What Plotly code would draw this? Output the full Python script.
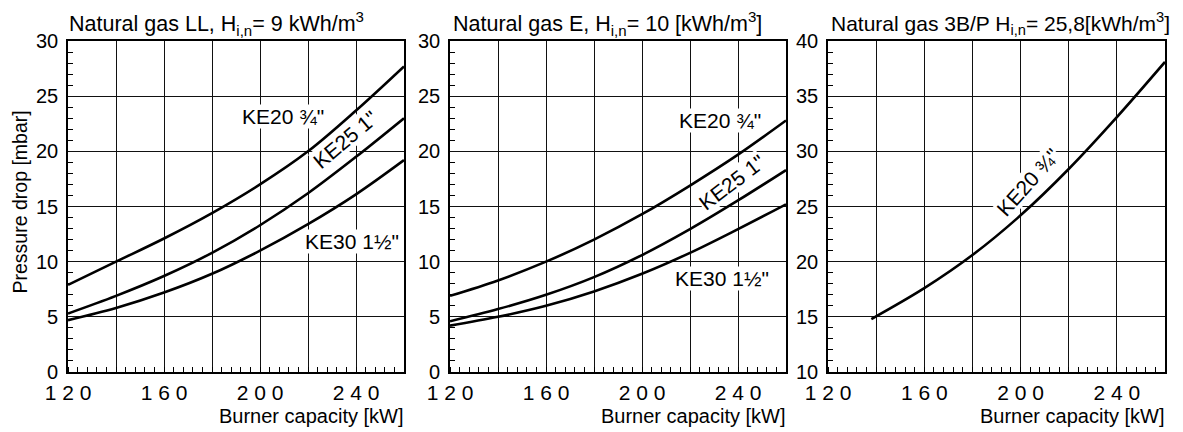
import plotly.graph_objects as go

# ---------------- data ----------------
capacity = [120, 140, 160, 180, 200, 220, 240, 260]

ll_ke20 = [7.9, 10.0, 12.1, 14.4, 17.0, 20.0, 23.7, 27.7]
ll_ke25 = [5.3, 6.9, 8.7, 10.8, 13.3, 16.2, 19.5, 23.0]
ll_ke30 = [4.7, 5.8, 7.2, 8.9, 11.0, 13.4, 16.1, 19.2]

e_ke20 = [6.9, 8.3, 10.0, 12.0, 14.3, 16.9, 19.7, 22.8]
e_ke25 = [4.6, 5.7, 7.0, 8.6, 10.6, 12.95, 15.55, 18.3]
e_ke30 = [4.2, 5.0, 6.0, 7.3, 8.9, 10.8, 12.95, 15.2]

p_capacity = [138, 160, 180, 200, 220, 240, 260]
p_ke20 = [14.8, 17.6, 20.6, 24.2, 28.4, 33.1, 38.1]

x_tickvals = [120, 140, 160, 180, 200, 220, 240, 260]
x_ticktext = ["1 2 0", "", "1 6 0", "", "2 0 0", "", "2 4 0", ""]

titles = [
    "Natural gas LL, H<sub>i,n</sub>= 9 kWh/m<sup>3</sup>",
    "Natural gas E, H<sub>i,n</sub>= 10 [kWh/m<sup>3</sup>]",
    "Natural gas 3B/P H<sub>i,n</sub>= 25,8[kWh/m<sup>3</sup>]",
]
x_title = "Burner capacity [kW]"
y_title = "Pressure drop [mbar]"

lbl20 = "KE20 \u00be\""
lbl25 = "KE25 1\""
lbl30 = "KE30 1\u00bd\""

# ---------------- layout geometry ----------------
OFF = 8                      # page body margin offset in the screenshot
W, H = 1183 - OFF, 432 - OFF
ML, MR, MT, MB = 68 - OFF, 18, 41 - OFF, 60
PW, PH = W - ML - MR, H - MT - MB
FONT = "Arial, Liberation Sans, Helvetica, sans-serif"


def fx(px):
    return (px - OFF - ML) / PW


def fy(py):
    return (H - MB - (py - OFF)) / PH


fig = go.Figure()

line = dict(color="black", width=2.6, shape="spline", smoothing=1.0)

panels = [
    ("x", "y", capacity, [ll_ke20, ll_ke25, ll_ke30]),
    ("x2", "y2", capacity, [e_ke20, e_ke25, e_ke30]),
    ("x3", "y3", p_capacity, [p_ke20]),
]
for xa, ya, xs, series in panels:
    for s in series:
        fig.add_trace(go.Scatter(x=xs, y=s, mode="lines", line=line,
                                 xaxis=xa, yaxis=ya, showlegend=False,
                                 hoverinfo="skip"))

px_dom = [(68, 404), (450, 786), (828, 1165)]
yranges = [[0, 30], [0, 30], [10, 40]]

for i, (a, b) in enumerate(px_dom):
    sfx = "" if i == 0 else str(i + 1)
    xa = dict(
        domain=[max(fx(a), 0.0), min(fx(b), 1.0)], anchor="y" + sfx,
        range=[120, 260], tickmode="array", tickvals=x_tickvals, ticktext=x_ticktext,
        showgrid=True, gridcolor="#111", gridwidth=1.4,
        showline=True, linecolor="black", linewidth=1.6, mirror=True,
        ticks="", tickfont=dict(size=21, color="black", family=FONT),
        ticklabelstandoff=1, automargin=False,
        minor=dict(tick0=120, dtick=4, ticks="inside", ticklen=5,
                   tickcolor="black", tickwidth=1.2, showgrid=False),
        zeroline=False, fixedrange=True,
    )
    ya = dict(
        domain=[0, 1], range=yranges[i], dtick=5, tick0=0,
        showgrid=True, gridcolor="#111", gridwidth=1.4,
        showline=True, linecolor="black", linewidth=1.6, mirror=True,
        ticks="", tickfont=dict(size=20, color="black", family=FONT),
        ticklabelstandoff=4, automargin=False,
        minor=dict(dtick=1, ticks="inside", ticklen=5,
                   tickcolor="black", tickwidth=1.2, showgrid=False),
        zeroline=False, fixedrange=True, anchor="x" + sfx,
    )
    fig.layout["xaxis" + sfx] = xa
    fig.layout["yaxis" + sfx] = ya

annotations = []
title_x = [68, 452, 830]
title_size = [21.5, 21.5, 21.0]
for i, t in enumerate(titles):
    annotations.append(dict(
        text=t, xref="paper", x=fx(title_x[i]), xanchor="left",
        yref="paper", y=fy(23), yanchor="middle", showarrow=False,
        font=dict(size=title_size[i], color="black", family=FONT), borderpad=0))
    annotations.append(dict(
        text=x_title, xref="paper", x=fx(px_dom[i][1] + 1), xanchor="right",
        yref="paper", y=fy(416), yanchor="middle", showarrow=False,
        font=dict(size=20, color="black", family=FONT), borderpad=0))

annotations.append(dict(
    text=y_title, xref="paper", x=fx(19.5), xanchor="center",
    yref="paper", y=fy(202), yanchor="middle", textangle=-90,
    showarrow=False, borderpad=0,
    font=dict(size=19.5, color="black", family=FONT)))

lab_font = dict(size=21, color="black", family=FONT)
curve_labels = [
    ("x", "y", 209.7, 23.15, lbl20, 0),
    ("x", "y", 235.5, 21.1, lbl25, -40),
    ("x", "y", 238.2, 11.85, lbl30, 0),
    ("x2", "y2", 232.5, 22.75, lbl20, 0),
    ("x2", "y2", 237.4, 17.15, lbl25, -37),
    ("x2", "y2", 233.2, 8.5, lbl30, 0),
    ("x3", "y3", 203.0, 27.2, lbl20, -48),
]
for xr, yr, x, y, t, ang in curve_labels:
    annotations.append(dict(
        text=t, xref=xr, yref=yr, x=x, y=y, xanchor="center", yanchor="middle",
        textangle=ang, showarrow=False, font=lab_font,
        bgcolor="white", borderpad=0))

fig.update_layout(
    width=W, height=H,
    margin=dict(l=ML, r=MR, t=MT, b=MB, autoexpand=False),
    paper_bgcolor="white", plot_bgcolor="white",
    font=dict(family=FONT, color="black"),
    annotations=annotations,
    showlegend=False,
)

fig.write_html("out.html")
